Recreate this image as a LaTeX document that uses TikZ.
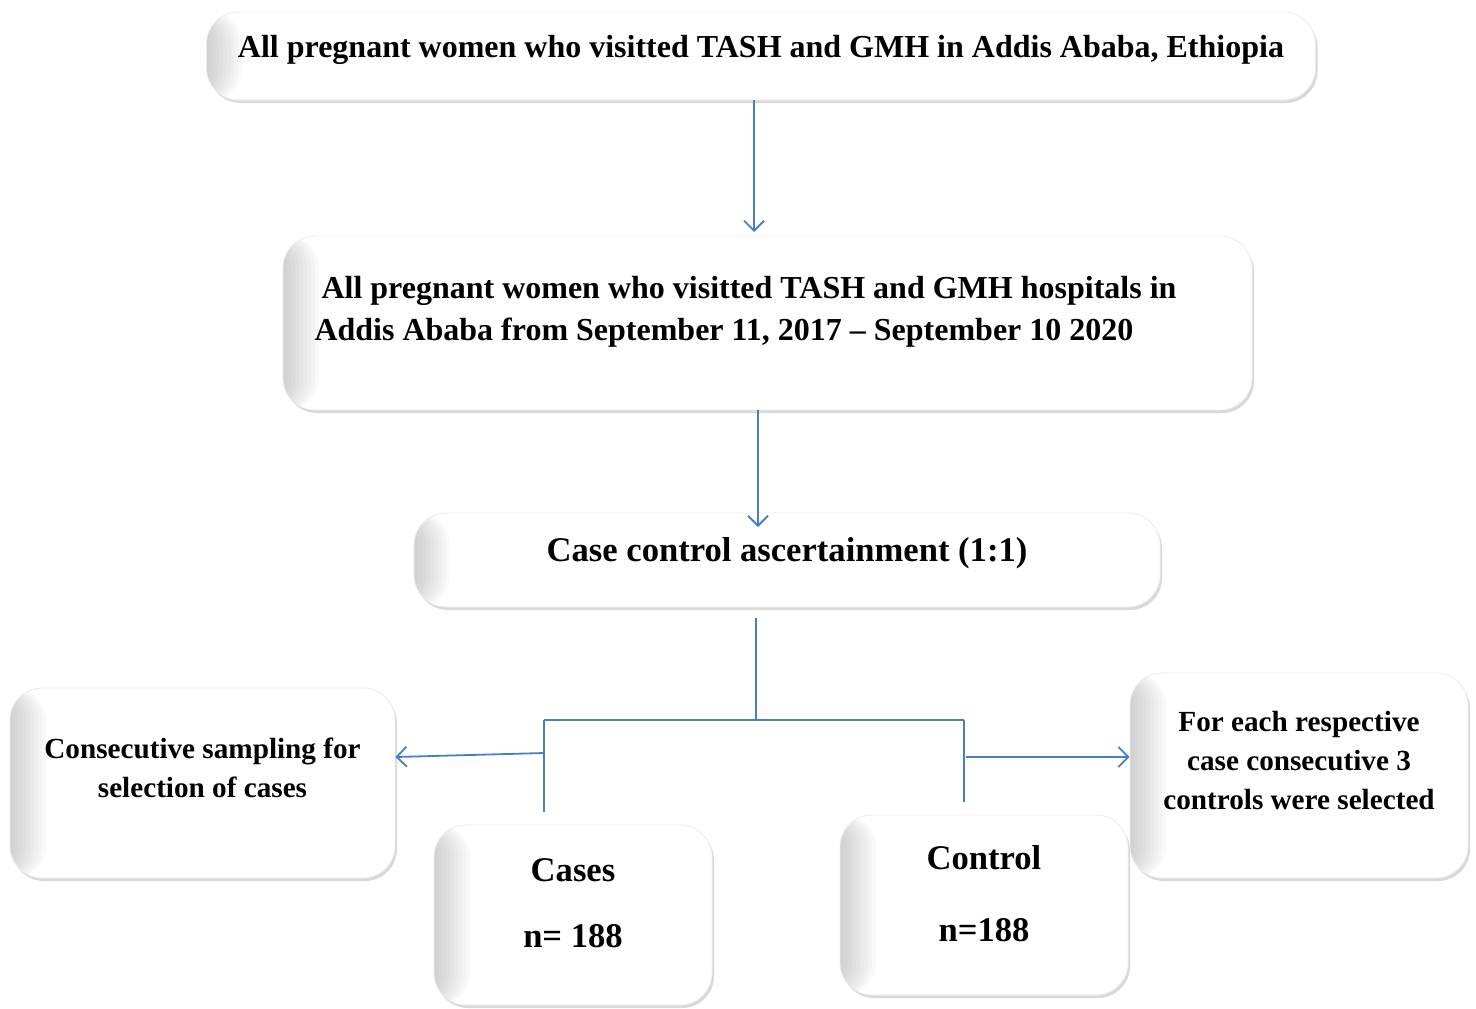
\documentclass[tikz,border=0pt]{standalone}
\usepackage{fontspec}
\setmainfont{Liberation Serif}
\usetikzlibrary{arrows.meta,shadows}
\definecolor{flowblue}{HTML}{4A7EC2}
\tikzset{
  stagebox/.style={rectangle, rounded corners=16, fill=white, draw=gray!15, thin,
    drop shadow={opacity=0.3, shadow xshift=1pt, shadow yshift=-1.5pt},
    path picture={\foreach \w in {1,...,9}
      \fill[gray, opacity=0.045] (path picture bounding box.south west) rectangle ([xshift=\w*2pt]path picture bounding box.north west);},
    align=center, font=\bfseries, inner sep=0pt},
  flow/.style={draw=flowblue, line width=0.9pt},
  flowarrow/.style={flow, -{Straight Barb[length=5pt, width=10pt, line width=0.9pt]}}
}
\begin{document}
\begin{tikzpicture}[x=0.5pt, y=-0.5pt]
\useasboundingbox (0,0) rectangle (1476,1008);
% top boxes
\node[stagebox, minimum width=554.5pt, minimum height=44pt, font=\bfseries\fontsize{16}{19}\selectfont] (all) at (761,56) {All pregnant women who visitted TASH and GMH in Addis Ababa, Ethiopia\\[-9pt]};
\node[stagebox, minimum width=484.5pt, minimum height=87pt, align=left, font=\bfseries\fontsize{16}{21}\selectfont] (period) at (767.5,323) {\hspace*{3.5pt}All pregnant women who visitted TASH and GMH hospitals in\hspace*{22pt}\\Addis Ababa from September 11, 2017 -- September 10 2020\\[-6pt]};
\node[stagebox, minimum width=373pt, minimum height=47pt, font=\bfseries\fontsize{17.3}{20}\selectfont] (ascert) at (787,560) {Case control ascertainment (1:1)\\[-9pt]};
% lower boxes
\node[stagebox, minimum width=192.5pt, minimum height=95pt, font=\bfseries\fontsize{14.6}{19.5}\selectfont] (sampling) at (202.5,783) {Consecutive sampling for\\selection of cases\\[-4pt]};
\node[stagebox, minimum width=139pt, minimum height=90pt, font=\bfseries\fontsize{17.3}{33}\selectfont] (cases) at (573,915) {Cases\\n= 188\\[-21pt]};
\node[stagebox, minimum width=144pt, minimum height=90pt, font=\bfseries\fontsize{17.3}{36}\selectfont] (control) at (984,905) {Control\\n=188\\[-24pt]};
\node[stagebox, minimum width=169pt, minimum height=102.5pt, font=\bfseries\fontsize{14.6}{19.5}\selectfont] (select) at (1299,775.5) {For each respective\\case consecutive 3\\controls were selected\\[-4pt]};
% branch points
\coordinate (stem) at (756,618);
\coordinate (split) at (756,720);
\coordinate (leftend) at (544,720);
\coordinate (rightend) at (964,720);
\coordinate (leftfoot) at (544,812);
\coordinate (rightfoot) at (964,802);
\coordinate (leftmid) at (544,753);
\coordinate (rightmid) at (966,757);
% connectors
\draw[flowarrow] (all.south -| 754,0) -- (754,232);
\draw[flowarrow] (period.south -| 758,0) -- (758,527);
\draw[flow] (stem) -- (split);
\draw[flow] (leftend) -- (rightend);
\draw[flow] (leftend) -- (leftfoot);
\draw[flow] (rightend) -- (rightfoot);
\draw[flowarrow] (leftmid) -- (sampling.east |- 0,757);
\draw[flowarrow] (rightmid) -- (select.west |- rightmid);
\end{tikzpicture}
\end{document}
